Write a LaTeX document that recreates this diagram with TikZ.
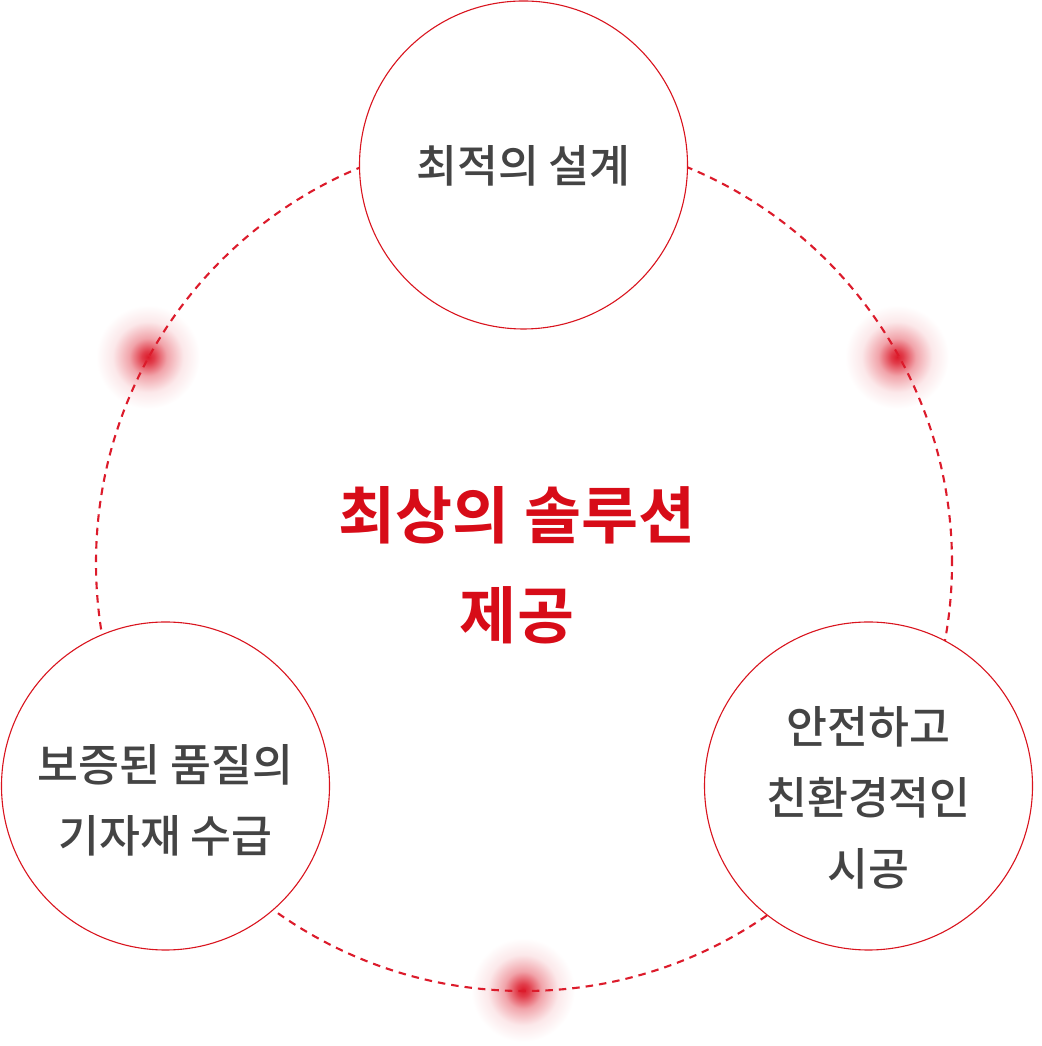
\documentclass[tikz,border=0pt]{standalone}
\usepackage{fontspec}
\newfontfamily\kr{Noto Sans CJK KR Medium}
\newfontfamily\krb{Noto Sans CJK KR Bold}
\definecolor{ringred}{HTML}{D9141E}
\definecolor{dashred}{HTML}{DC1B2B}
\definecolor{titlered}{HTML}{D70C18}
\definecolor{txtgray}{HTML}{444444}
\pgfdeclareradialshading{glow}{\pgfpointorigin}{color(0bp)=(dashred); color(3bp)=(dashred!85); color(9bp)=(dashred!40); color(17bp)=(dashred!10); color(25bp)=(white); color(50bp)=(white)}
\tikzset{
  bigring/.style={circle, draw=dashred, line width=2.1pt, dash pattern=on 7.5pt off 6pt, minimum size=856pt, inner sep=0pt},
  petal/.style={circle, draw=ringred, line width=1.1pt, fill=white, minimum size=328pt, inner sep=0pt},
  petaltext/.style={text=txtgray, align=center, font=\kr\fontsize{44.5}{71}\selectfont},
  hubtext/.style={text=titlered, align=center, font=\krb\fontsize{62}{100}\selectfont},
}
\begin{document}
\begin{tikzpicture}[x=1pt,y=1pt]
\useasboundingbox (0,0) rectangle (1041,1046);
% glows
\shade[shading=glow] (148,689) circle (52);
\shade[shading=glow] (897,689) circle (52);
\shade[shading=glow] (523,56) circle (52);
% dashed ring
\node[bigring] (ring) at (524,483) {};
% petals
\node[petal] (top) at (523.5,881) {};
\node[petal] (left) at (165.5,260) {};
\node[petal] (right) at (868.5,260) {};
% texts
\node[petaltext] (toptxt) at (523.5,880) {최적의 설계};
\node[petaltext] (lefttxt) at (165.5,246) {보증된 품질의\\기자재 수급};
\node[petaltext] (righttxt) at (868.5,248) {안전하고\\친환경적인\\시공};
\node[hubtext] (hub) at (517,481) {최상의 솔루션\\제공};
\end{tikzpicture}
\end{document}
